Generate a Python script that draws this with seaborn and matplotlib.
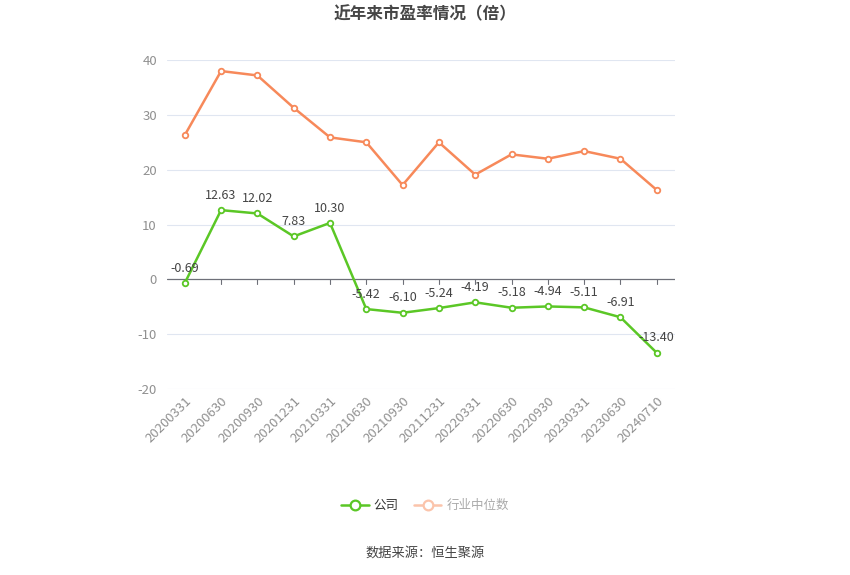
import numpy as np
import pandas as pd
import matplotlib
matplotlib.use("Agg")
import matplotlib.pyplot as plt
from matplotlib.lines import Line2D
import seaborn as sns

# 数据
dates = ["20200331", "20200630", "20200930", "20201231", "20210331", "20210630", "20210930",
         "20211231", "20220331", "20220630", "20220930", "20230331", "20230630", "20240710"]
company_pe = [-0.69, 12.63, 12.02, 7.83, 10.30, -5.42, -6.10, -5.24, -4.19, -5.18, -4.94, -5.11, -6.91, -13.40]
industry_pe = [26.3, 38.0, 37.2, 31.3, 25.9, 25.0, 17.2, 25.0, 19.1, 22.8, 22.0, 23.4, 22.0, 16.3]
y_ticks = [-20, -10, 0, 10, 20, 30, 40]

green = "#5bc726"
orange = "#f7895a"

sns.set_theme(style="white")
plt.rcParams['font.family'] = ['Noto Sans CJK SC', 'DejaVu Sans']

df = pd.DataFrame({"pos": np.arange(len(dates)), "date": dates,
                   "company": company_pe, "industry": industry_pe})

fig = plt.figure(figsize=(8.5, 5.75), dpi=100)
ax = fig.add_axes([0.196, 0.3235, 0.598, 0.572])

for yv in y_ticks:
    if yv != 0:
        ax.axhline(yv, color="#e0e6f1", lw=0.8, zorder=0)
ax.axhline(0, color="#6e7079", lw=0.9, zorder=1)

sns.lineplot(data=df, x="pos", y="industry", ax=ax, color=orange, lw=1.8,
             marker="o", markersize=4, markerfacecolor="white",
             markeredgecolor=orange, markeredgewidth=1.3, zorder=3)
sns.lineplot(data=df, x="pos", y="company", ax=ax, color=green, lw=1.8,
             marker="o", markersize=4, markerfacecolor="white",
             markeredgecolor=green, markeredgewidth=1.3, zorder=4)

for i, v in enumerate(company_pe):
    ax.annotate(f"{v:.2f}", (i, v), xytext=(0, 6), textcoords="offset points",
                ha="center", va="bottom", fontsize=9, color="#444444", zorder=5)

ax.set_xlim(-0.5, len(dates) - 0.5)
ax.set_ylim(-20, 40)
ax.set_yticks(y_ticks)
ax.set_yticklabels([str(t) for t in y_ticks], color="#909090", fontsize=9.5)
ax.set_xticks(df["pos"])
ax.set_xticklabels(dates, rotation=45, ha="right", rotation_mode="anchor",
                   color="#909090", fontsize=9.5)
ax.tick_params(axis="y", length=0, pad=7)
ax.tick_params(axis="x", length=0, pad=4)
# 零轴上的小刻度
for i in range(1, len(dates)):
    ax.plot([i, i], [0, -0.9], color="#6e7079", lw=0.8, zorder=1)
ax.set_xlabel("")
ax.set_ylabel("")
for s in ax.spines.values():
    s.set_visible(False)

fig.text(0.5, 0.975, "近年来市盈率情况（倍）", ha="center", va="center",
         fontsize=12, fontweight="bold", color="#464646")

handles = [
    Line2D([0], [0], color=green, lw=1.8, marker="o", markersize=7,
           markerfacecolor="white", markeredgecolor=green, markeredgewidth=1.6),
    Line2D([0], [0], color="#fbc4ab", lw=1.8, marker="o", markersize=7,
           markerfacecolor="white", markeredgecolor="#fbc4ab", markeredgewidth=1.6),
]
leg = fig.legend(handles, ["公司", "行业中位数"], loc="center", bbox_to_anchor=(0.5, 0.121),
                 ncol=2, frameon=False, fontsize=9, handlelength=2.2,
                 handletextpad=0.4, columnspacing=1.2)
leg.get_texts()[0].set_color("#333333")
leg.get_texts()[1].set_color("#aaaaaa")

fig.text(0.5, 0.038, "数据来源：恒生聚源", ha="center", va="center",
         fontsize=9.5, color="#444444")

fig.savefig("out.png", dpi=100)
